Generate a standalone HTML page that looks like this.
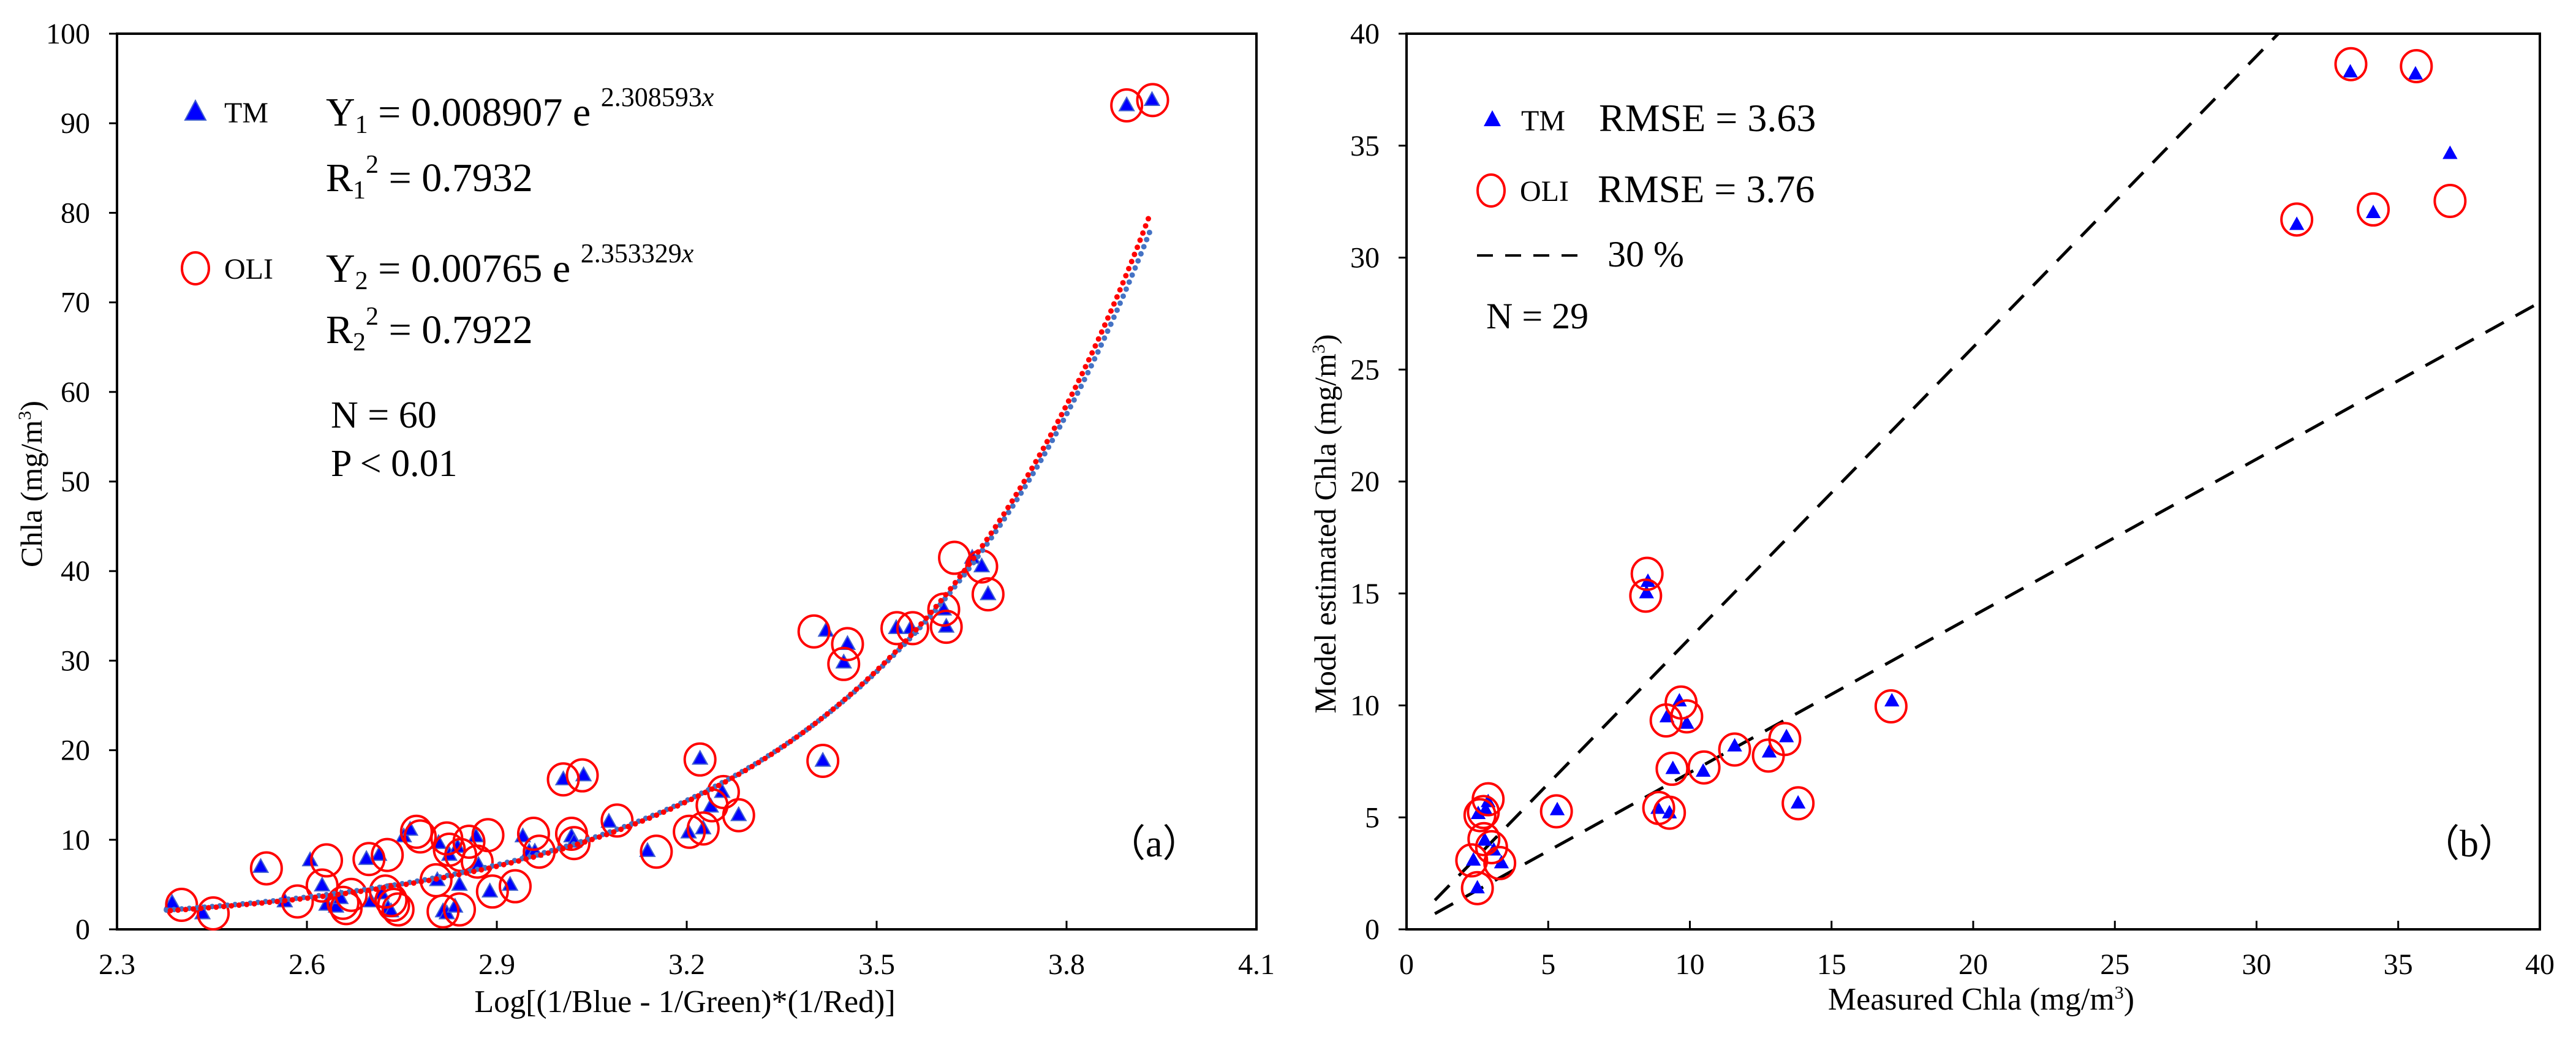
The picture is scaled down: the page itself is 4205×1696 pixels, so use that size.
<!DOCTYPE html>
<html><head><meta charset="utf-8"><style>
html,body{margin:0;padding:0;background:#fff;}
svg{display:block;font-family:"Liberation Serif",serif;}
</style></head><body>
<svg id="chart" width="4205" height="1696" viewBox="0 0 4205 1696" xmlns="http://www.w3.org/2000/svg">
<rect width="4205" height="1696" fill="#fff"/>
<g id="pa"></g>
<g id="pb"></g>
</svg>
<script>
// Panel (a) data
const aTmX = [2.387,2.435,2.527,2.565,2.605,2.624,2.631,2.646,2.653,2.694,2.714,2.701,2.718,2.728,2.733,2.753,2.763,2.806,2.808,2.815,2.821,2.825,2.834,2.838,2.841,2.867,2.871,2.889,2.921,2.941,2.951,2.960,3.005,3.018,3.022,3.037,3.077,3.138,3.203,3.221,3.226,3.238,3.256,3.282,3.415,3.420,3.448,3.454,3.531,3.554,3.606,3.610,3.651,3.666,3.676,3.895,3.935];
const aTmY = [2.96,1.78,6.96,3.11,7.70,4.89,2.74,2.52,3.48,7.85,8.30,3.11,4.0,2.37,2.0,10.37,11.11,5.48,9.63,2.0,1.78,8.30,2.52,9.19,4.96,10.37,7.19,4.22,4.96,10.37,8.67,8.67,16.74,10.37,9.78,17.19,12.0,8.74,10.81,19.04,11.26,13.70,15.33,12.74,18.81,33.33,29.78,31.85,33.63,33.63,35.70,33.78,41.48,40.52,37.41,92.0,92.59];
const aOliX = [2.402,2.452,2.536,2.585,2.631,2.624,2.657,2.670,2.662,2.698,2.727,2.724,2.737,2.744,2.733,2.773,2.779,2.804,2.821,2.825,2.815,2.841,2.843,2.856,2.869,2.886,2.893,2.929,2.958,2.967,3.005,3.018,3.022,3.035,3.090,3.152,3.204,3.221,3.226,3.240,3.258,3.282,3.401,3.415,3.448,3.454,3.532,3.557,3.606,3.610,3.623,3.666,3.676,3.895,3.936];
const aOliY = [2.74,1.78,6.81,3.11,7.70,4.89,2.96,3.85,2.37,7.85,8.30,4.22,2.74,2.22,3.26,10.89,10.37,5.48,10.15,8.89,2.0,2.22,8.30,9.78,7.56,10.52,4.22,4.81,10.67,8.67,16.74,10.67,9.63,17.19,12.15,8.67,10.89,18.96,11.26,13.85,15.33,12.74,33.26,18.81,29.63,31.85,33.63,33.63,35.70,33.78,41.48,40.52,37.41,92.0,92.59];
const aXTicks = ["2.3","2.6","2.9","3.2","3.5","3.8","4.1"];
const aYTicks = ["0","10","20","30","40","50","60","70","80","90","100"];
const fitTm = [0.008907, 2.308593];
const fitOli = [0.00765, 2.353329];
const fitRange = [2.378, 3.932];
// Panel (b) data
const bTmX = [2.50,2.36,2.53,2.76,2.88,2.79,3.08,3.35,5.32,8.47,8.52,8.87,9.19,9.28,9.40,9.63,9.89,10.47,11.58,12.80,13.41,13.82,17.13,31.42,33.31,35.61,34.12,36.83];
const bTmY = [1.84,3.08,5.16,3.97,5.69,5.33,3.53,2.96,5.33,15.02,15.53,5.39,9.48,5.19,7.17,10.19,9.19,7.05,8.18,7.91,8.59,5.63,10.19,31.47,38.28,38.19,32.0,34.64];
const bOliX = [2.50,2.30,2.59,2.73,2.88,2.71,3.00,3.29,5.29,8.44,8.49,8.90,9.16,9.28,9.37,9.69,9.89,10.50,11.58,12.77,13.35,13.82,17.10,31.42,33.33,35.64,34.12,36.83];
const bOliY = [1.84,3.08,5.10,4.03,5.81,5.24,3.67,2.96,5.27,14.90,15.88,5.42,9.33,5.21,7.17,10.13,9.51,7.23,8.03,7.76,8.50,5.63,9.96,31.70,38.64,38.55,32.15,32.53];
const bXTicks = ["0","5","10","15","20","25","30","35","40"];
const bYTicks = ["0","5","10","15","20","25","30","35","40"];
const bandSlopes = [1.3, 0.7];

const NS="http://www.w3.org/2000/svg";
function mk(parent,tag,attrs,text){const e=document.createElementNS(NS,tag);for(const k in attrs)e.setAttribute(k,attrs[k]);if(text!==undefined)e.textContent=text;parent.appendChild(e);return e;}
const TOP=55,BOT=1517;

function frame(g,L,R,xt,yt,xs,ys){
  const f=mk(g,'rect',{x:L,y:TOP,width:R-L,height:BOT-TOP,fill:'none',stroke:'#000','stroke-width':4});
  
  
  xt.forEach(t=>{const v=+t,x=xs(v);
    const l=mk(g,'line',{x1:x,y1:BOT,x2:x,y2:BOT-14,stroke:'#000','stroke-width':3});
    
    
    const tx=mk(g,'text',{x:x,y:1590,'font-size':48,'text-anchor':'middle'},t);
    
    });
  yt.forEach(t=>{const v=+t,y=ys(v);
    const l=mk(g,'line',{x1:L,y1:y,x2:L-13,y2:y,stroke:'#000','stroke-width':3});
    
    
    const tx=mk(g,'text',{x:L-44,y:y+16,'font-size':48,'text-anchor':'end'},t);
    
    });
}
function tri(g,x,y,s,edge){const h=s*0.9;
  const p=mk(g,'polygon',{points:`${x},${y-h*0.6} ${x-s/2},${y+h*0.4} ${x+s/2},${y+h*0.4}`,fill:'#0000ff',stroke:edge,'stroke-width':2});
  
  }
function circ(g,x,y){const c=mk(g,'ellipse',{cx:x,cy:y,rx:25,ry:26,fill:'none',stroke:'#ff0000','stroke-width':4});
  
  }

// ===== Panel a =====
(function(){
const g=document.getElementById('pa');
const L=191,R=2051;
const xs=v=>L+(v-2.3)/1.8*(R-L), ys=v=>BOT-v/100*(BOT-TOP);
frame(g,L,R,aXTicks,aYTicks,xs,ys);
function curve(p,color,name,off){let d='';const n=300;
  for(let i=0;i<=n;i++){const x=fitRange[0]+(fitRange[1]-fitRange[0])*i/n;const y=p[0]*Math.exp(p[1]*x);d+=(i?'L':'M')+xs(x).toFixed(1)+','+ys(y).toFixed(1);}
  const c=mk(g,'path',{d:d,fill:'none',stroke:color,'stroke-width':9,'stroke-linecap':'round','stroke-dasharray':'0 12.5','stroke-dashoffset':off});
  
  }
aTmX.forEach((x,i)=>tri(g,xs(x),ys(aTmY[i]),24,'#4060d0'));
aOliX.forEach((x,i)=>circ(g,xs(x),ys(aOliY[i])));
curve(fitTm,'#4472c4','tm-fit-curve',0);
curve(fitOli,'#ff0000','oli-fit-curve',6);
})();

// ===== Panel b =====
(function(){
const g=document.getElementById('pb');
const L=2296,R=4146;
const xs=v=>L+v/40*(R-L), ys=v=>BOT-v/40*(BOT-TOP);
frame(g,L,R,bXTicks,bYTicks,xs,ys);
bandSlopes.forEach((s,i)=>{const x2=Math.min(40,40/s);
  const l=mk(g,'line',{x1:xs(1),y1:ys(s),x2:xs(x2),y2:ys(s*x2),stroke:'#000','stroke-width':5,'stroke-dasharray':'34 22'});
  
  });
bTmX.forEach((x,i)=>tri(g,xs(x),ys(bTmY[i]),21,'#0000ff'));
bOliX.forEach((x,i)=>circ(g,xs(x),ys(bOliY[i])));
})();
</script>
<svg style="position:absolute;left:0;top:0" width="4205" height="1696" xmlns="http://www.w3.org/2000/svg" font-family="Liberation Serif, serif">
<text transform="translate(68,790) rotate(-90)" font-size="50" text-anchor="middle">Chla (mg/m<tspan font-size="30" dy="-18">3</tspan><tspan dy="18">)</tspan></text>
<text x="1118" y="1652" font-size="52" text-anchor="middle">Log[(1/Blue - 1/Green)*(1/Red)]</text>
<polygon points="319,164 302,196 336,196" fill="#0000ff" stroke="#4060d0" stroke-width="2"/>
<text x="366" y="200" font-size="48">TM</text>
<text x="532" y="205" font-size="66">Y<tspan font-size="42" dy="12">1</tspan><tspan dy="-12"> = 0.008907 e </tspan><tspan font-size="44" dy="-32">2.308593<tspan font-style="italic">x</tspan></tspan></text>
<text x="532" y="312" font-size="66">R<tspan font-size="42" dy="12">1</tspan><tspan font-size="42" dy="-42">2</tspan><tspan dy="30"> = 0.7932</tspan></text>
<ellipse cx="319" cy="438" rx="22" ry="26" fill="none" stroke="#ff0000" stroke-width="4"/>
<text x="366" y="455" font-size="48">OLI</text>
<text x="532" y="460" font-size="66">Y<tspan font-size="42" dy="12">2</tspan><tspan dy="-12"> = 0.00765 e </tspan><tspan font-size="44" dy="-32">2.353329<tspan font-style="italic">x</tspan></tspan></text>
<text x="532" y="560" font-size="66">R<tspan font-size="42" dy="12">2</tspan><tspan font-size="42" dy="-42">2</tspan><tspan dy="30"> = 0.7922</tspan></text>
<text x="540" y="698" font-size="62">N = 60</text>
<text x="540" y="777" font-size="62">P &lt; 0.01</text>
<text x="1808" y="1398" font-size="62">（a）</text>
<text transform="translate(2180,855) rotate(-90)" font-size="50" text-anchor="middle">Model estimated Chla (mg/m<tspan font-size="30" dy="-18">3</tspan><tspan dy="18">)</tspan></text>
<text x="3234" y="1648" font-size="52" text-anchor="middle">Measured Chla (mg/m<tspan font-size="30" dy="-18">3</tspan><tspan dy="18">)</tspan></text>
<polygon points="2436,180 2422,206 2450,206" fill="#0000ff"/>
<text x="2483" y="213" font-size="48">TM</text>
<text x="2610" y="214" font-size="64">RMSE = 3.63</text>
<ellipse cx="2434" cy="311" rx="22" ry="26" fill="none" stroke="#ff0000" stroke-width="4"/>
<text x="2481" y="328" font-size="48">OLI</text>
<text x="2608" y="330" font-size="64">RMSE = 3.76</text>
<line x1="2411" y1="417" x2="2577" y2="417" stroke="#000" stroke-width="4" stroke-dasharray="26 20"/>
<text x="2624" y="435" font-size="60">30 %</text>
<text x="2426" y="536" font-size="60">N = 29</text>
<text x="3953" y="1398" font-size="62">（b）</text>
</svg>
</body></html>
